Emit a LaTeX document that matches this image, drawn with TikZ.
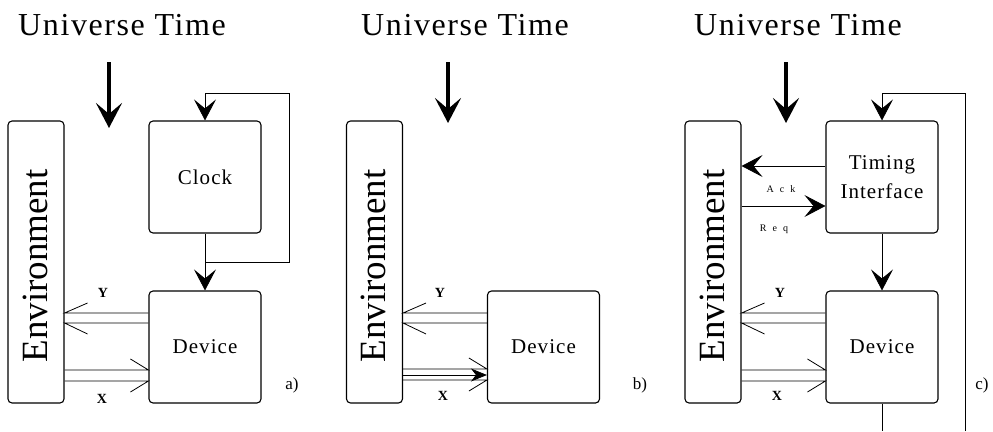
\documentclass[tikz,border=0pt]{standalone}
\usepackage{fontspec}
\setmainfont{Liberation Serif}
\newfontfamily\spacedserif[LetterSpace=5]{Liberation Serif}
\usetikzlibrary{arrows.meta,calc}
\begin{document}
\begin{tikzpicture}[x=1pt,y=-1pt,
  box/.style={draw, line width=1.1pt, rounded corners=4pt, inner sep=0pt, align=center,
    minimum width=112pt, minimum height=112pt, font=\spacedserif\fontsize{21}{29}\selectfont},
  envbox/.style={draw, line width=1.1pt, rounded corners=4pt, inner sep=0pt,
    minimum width=56pt, minimum height=282pt},
  envtext/.style={rotate=90, inner sep=0pt, font=\fontsize{37}{40}\selectfont},
  wire/.style={line width=0.8pt},
  bigarrow/.style={line width=4pt, -{Stealth[length=25pt,width=26pt,inset=11pt]}},
  headarrow/.style={line width=0.8pt, -{Stealth[length=21pt,width=22pt,inset=9pt]}},
  smallhead/.style={line width=0.8pt, -{Stealth[length=16pt,width=13pt,inset=5pt]}},
  title/.style={anchor=base, inner sep=0pt, font=\spacedserif\fontsize{32}{36}\selectfont},
  lab/.style={inner sep=0pt, font=\bfseries\fontsize{14}{16}\selectfont},
  tiny/.style={inner sep=0pt, font=\fontsize{10}{12}\selectfont},
  panel/.style={inner sep=0pt, font=\fontsize{17}{20}\selectfont},
]
\useasboundingbox (0,0) rectangle (993,431);

% ================= panel a =================
\node[title] (tA) at (122,35) {Universe Time};
\coordinate (uA1) at (109,62);
\coordinate (uA2) at (109,128);
\draw[bigarrow] (uA1) -- (uA2);

\node[envbox] (envA) at (36,262) {};
\node[envtext] (envAt) at ($(envA.center)+(-1,4)$) {Environment};
\node[box] (clock) at (205,177) {Clock};
\node[box] (devA) at (205,347) {Device};

\coordinate (la1) at (205,262);
\coordinate (la2) at (289,262);
\coordinate (la3) at (289,93);
\coordinate (la4) at (205,93);
\draw[wire] (clock.south) -- (la1) -- (la2) -- (la3) -- (la4);
\draw[headarrow] (la4) -- (clock.north);
\draw[headarrow] (la1) -- (devA.north);

% Y
\draw[wire] ($(devA.west)+(0,-34)$) -- ($(envA.east)+(0,51)$) -- ++(23,-10);
\draw[wire] ($(devA.west)+(0,-24)$) -- ($(envA.east)+(0,61)$) -- ++(23,11);
% X
\draw[wire] ($(envA.east)+(0,108)$) -- ($(devA.west)+(0,23)$) -- ++(-18,-11);
\draw[wire] ($(envA.east)+(0,119)$) -- ($(devA.west)+(0,34)$) -- ++(-18,11);
\node[lab] (yA) at (103,293) {Y};
\node[lab] (xA) at (102,399) {X};
\node[panel] (pa) at (292,385) {a)};

% ================= panel b =================
\node[title] (tB) at (465,35) {Universe Time};
\coordinate (uB1) at (448,62);
\coordinate (uB2) at (448,123);
\draw[bigarrow] (uB1) -- (uB2);

\node[envbox] (envB) at (374.5,262) {};
\node[envtext] (envBt) at ($(envB.center)+(-1,4)$) {Environment};
\node[box] (devB) at (543.5,347) {Device};

% Y
\draw[wire] ($(devB.west)+(0,-34)$) -- ($(envB.east)+(0,51)$) -- ++(23,-10);
\draw[wire] ($(devB.west)+(0,-24)$) -- ($(envB.east)+(0,61)$) -- ++(23,11);
% X
\draw[wire] ($(envB.east)+(0,107)$) -- ($(devB.west)+(0,22)$) -- ++(-18,-11);
\draw[wire] ($(envB.east)+(0,118)$) -- ($(devB.west)+(0,33)$) -- ++(-18,11);
\draw[smallhead] ($(envB.east)+(0,113)$) -- ($(devB.west)+(0,28)$);
\node[lab] (yB) at (440,293) {Y};
\node[lab] (xB) at (443,396) {X};
\node[panel] (pb) at (640,385) {b)};

% ================= panel c =================
\node[title] (tC) at (798,35) {Universe Time};
\coordinate (uC1) at (786,62);
\coordinate (uC2) at (786,123);
\draw[bigarrow] (uC1) -- (uC2);

\node[envbox] (envC) at (713,262) {};
\node[envtext] (envCt) at ($(envC.center)+(-1,4)$) {Environment};
\node[box] (ti) at (882,177) {Timing\\Interface};
\node[box] (devC) at (882,347) {Device};

\draw[headarrow] (ti.south) -- (devC.north);
\coordinate (lc1) at (882,431);
\coordinate (lc2) at (965,431);
\coordinate (lc3) at (965,93);
\coordinate (lc4) at (882,93);
\draw[wire] (devC.south) -- (lc1);
\draw[wire] (lc2) -- (lc3) -- (lc4);
\draw[headarrow] (lc4) -- (ti.north);

% Ack / Req
\draw[headarrow] ($(ti.west)+(0,-11)$) -- ($(envC.east)+(0,-96)$);
\draw[headarrow] ($(envC.east)+(0,-56)$) -- ($(ti.west)+(0,29)$);
\node[tiny] (ack) at (781,189) {A\hspace{6pt}c\hspace{6pt}k};
\node[tiny] (req) at (774,229) {R\hspace{6pt}e\hspace{6pt}q};

% Y
\draw[wire] ($(devC.west)+(0,-34)$) -- ($(envC.east)+(0,51)$) -- ++(23,-10);
\draw[wire] ($(devC.west)+(0,-24)$) -- ($(envC.east)+(0,61)$) -- ++(23,11);
% X
\draw[wire] ($(envC.east)+(0,108)$) -- ($(devC.west)+(0,23)$) -- ++(-18,-11);
\draw[wire] ($(envC.east)+(0,119)$) -- ($(devC.west)+(0,34)$) -- ++(-18,11);
\node[lab] (yC) at (780,293) {Y};
\node[lab] (xC) at (777,396) {X};
\node[panel] (pc) at (982,385) {c)};
\end{tikzpicture}
\end{document}
